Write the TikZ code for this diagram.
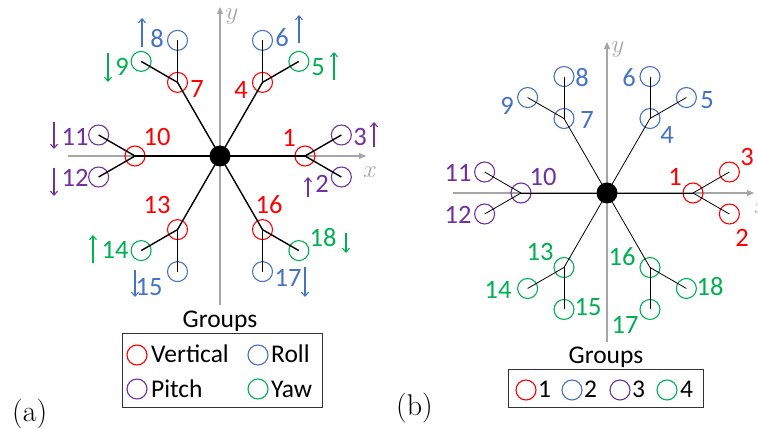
\documentclass[tikz,border=0pt]{standalone}
\usepackage{fontspec}
\newfontfamily\cali{Carlito}
\usetikzlibrary{arrows.meta,calc}
\definecolor{cvert}{HTML}{FF0000}
\definecolor{croll}{HTML}{4472C4}
\definecolor{cpitch}{HTML}{7030A0}
\definecolor{cyaw}{HTML}{00B050}
\definecolor{axgray}{HTML}{A6A6A6}
\begin{document}
\begin{tikzpicture}[x=1pt,y=1pt,
  ring/.style={circle,draw=#1,line width=1.1pt,minimum size=20pt,inner sep=0pt},
  hub/.style={circle,fill=black,minimum size=21pt,inner sep=0pt},
  lab/.style={text=#1,font=\cali\fontsize{26.5}{26.5}\selectfont,inner sep=0pt},
  armA/.style={line width=1.4pt},
  armB/.style={line width=0.8pt},
  axis/.style={draw=axgray,line width=1.2pt,-{Triangle[length=7pt,width=6pt]}},
  axlab/.style={text=axgray,font=\fontsize{24}{24}\selectfont,inner sep=0pt},
  motion/.style={draw=#1,line width=1.1pt,-{Straight Barb[length=4pt,width=7pt]}},
  legbox/.style={draw=black!80,line width=1pt},
  legtext/.style={font=\cali\fontsize{25.5}{25.5}\selectfont,inner sep=0pt,anchor=base west},
  grptext/.style={font=\cali\fontsize{25.5}{25.5}\selectfont,inner sep=0pt},
  panel/.style={font=\fontsize{30}{30}\selectfont,inner sep=0pt,anchor=base west},
]
\useasboundingbox (0,0) rectangle (758,428);

% ---------- panel (a): axes ----------
\coordinate (A) at (220,272);
\coordinate (axAw) at (68,272);   \coordinate (axAe) at (366,272);
\coordinate (axAs) at (220,123);  \coordinate (axAn) at (220,421);
\draw[axis] (axAw) -- (axAe);
\draw[axis] (axAs) -- (axAn);
\node[axlab] (xa) at (370,256) {$x$};
\node[axlab] (ya) at (232,411) {$y$};

% ---------- panel (a): arms ----------
\foreach \k/\t/\ca/\cb in {1/0/cpitch/cpitch,4/60/cyaw/croll,7/120/croll/cyaw,
                           10/180/cpitch/cpitch,13/240/cyaw/croll,16/300/croll/cyaw}{
  \pgfmathtruncatemacro\ka{\k+1}
  \pgfmathtruncatemacro\kb{\k+2}
  \node[ring=cvert] (pa\k) at ($(A)+(\t:85)$) {};
  \node[ring=\ca] (pa\ka) at ($(pa\k.center)+(\t-30:42)$) {};
  \node[ring=\cb] (pa\kb) at ($(pa\k.center)+(\t+30:42)$) {};
  \draw[armA] (A) -- (pa\k.center);
  \draw[armA] (pa\k.center) -- (pa\ka.center);
  \draw[armA] (pa\k.center) -- (pa\kb.center);
}
\node[hub] (hubA) at (A) {};

% ---------- panel (a): labels and motion arrows ----------
\node[lab=cvert]  (la1)  at (289,290) {1};
\node[lab=cpitch] (la2)  at (322,244) {2};
\node[lab=cpitch] (la3)  at (360,291) {3};
\node[lab=cvert]  (la4)  at (241,338) {4};
\node[lab=cyaw]   (la5)  at (318,361) {5};
\node[lab=croll]  (la6)  at (282,390) {6};
\node[lab=cvert]  (la7)  at (197,339) {7};
\node[lab=croll]  (la8)  at (157,389) {8};
\node[lab=cyaw]   (la9)  at (122,361) {9};
\node[lab=cvert]  (la10) at (157,291) {10};
\node[lab=cpitch] (la11) at (75,291)  {11};
\node[lab=cpitch] (la12) at (75,250)  {12};
\node[lab=cvert]  (la13) at (157,223) {13};
\node[lab=cyaw]   (la14) at (115,178) {14};
\node[lab=croll]  (la15) at (149,141) {15};
\node[lab=cvert]  (la16) at (269,223) {16};
\node[lab=croll]  (la17) at (288,150) {17};
\node[lab=cyaw]   (la18) at (323,190) {18};

\foreach \n/\c/\x/\ya/\yb in {2/cpitch/308/231/251, 3/cpitch/374/281/306,
    5/cyaw/334/348/376, 6/croll/299/385/413, 8/croll/142/381/410,
    9/cyaw/108/375/346, 11/cpitch/54/306/279, 12/cpitch/54/260/232,
    14/cyaw/93/165/193, 15/croll/135/158/131, 17/croll/305/161/131,
    18/cyaw/346/195/175}{
  \coordinate (ms\n) at (\x,\ya);
  \coordinate (me\n) at (\x,\yb);
  \draw[motion=\c] (ms\n) -- (me\n);
}

% ---------- panel (a): legend ----------
\node[grptext] (grpA) at (220,107) {Groups};
\coordinate (lgAsw) at (122,20); \coordinate (lgAne) at (322,94);
\draw[legbox] (lgAsw) rectangle (lgAne);
\node[ring=cvert]  (kA1) at (137,73) {};
\node[legtext] (tA1) at (151,65) {Vertical};
\node[ring=croll]  (kA2) at (258,73) {};
\node[legtext] (tA2) at (271,65) {Roll};
\node[ring=cpitch] (kA3) at (137,39) {};
\node[legtext] (tA3) at (151,30) {Pitch};
\node[ring=cyaw]   (kA4) at (258,39) {};
\node[legtext] (tA4) at (271,30) {Yaw};

\node[panel] (capA) at (12,6) {(a)};

% ---------- panel (b): axes ----------
\coordinate (B) at (607,235);
\coordinate (axBw) at (453,235);  \coordinate (axBe) at (754,235);
\coordinate (axBs) at (607,86);   \coordinate (axBn) at (607,386);
\draw[axis] (axBw) -- (axBe);
\draw[axis] (axBs) -- (axBn);
\node[axlab] (xb) at (761,220) {$x$};
\node[axlab] (yb) at (618,378) {$y$};

% ---------- panel (b): arms ----------
\foreach \k/\t/\c in {1/0/cvert,4/60/croll,7/120/croll,
                      10/180/cpitch,13/240/cyaw,16/300/cyaw}{
  \pgfmathtruncatemacro\ka{\k+1}
  \pgfmathtruncatemacro\kb{\k+2}
  \node[ring=\c] (pb\k) at ($(B)+(\t:86)$) {};
  \node[ring=\c] (pb\ka) at ($(pb\k.center)+(\t-30:42)$) {};
  \node[ring=\c] (pb\kb) at ($(pb\k.center)+(\t+30:42)$) {};
  \draw[armB] (B) -- (pb\k.center);
  \draw[armB] (pb\k.center) -- (pb\ka.center);
  \draw[armB] (pb\k.center) -- (pb\kb.center);
}
\node[hub] (hubB) at (B) {};

% ---------- panel (b): labels ----------
\node[lab=cvert]  (lb1)  at (675,251) {1};
\node[lab=cvert]  (lb2)  at (742,190) {2};
\node[lab=cvert]  (lb3)  at (747,271) {3};
\node[lab=croll]  (lb4)  at (667,293) {4};
\node[lab=croll]  (lb5)  at (707,328) {5};
\node[lab=croll]  (lb6)  at (629,350) {6};
\node[lab=croll]  (lb7)  at (587,308) {7};
\node[lab=croll]  (lb8)  at (582,350) {8};
\node[lab=croll]  (lb9)  at (507,322) {9};
\node[lab=cpitch] (lb10) at (543,251) {10};
\node[lab=cpitch] (lb11) at (458,255) {11};
\node[lab=cpitch] (lb12) at (458,213) {12};
\node[lab=cyaw]   (lb13) at (540,176) {13};
\node[lab=cyaw]   (lb14) at (498,138) {14};
\node[lab=cyaw]   (lb15) at (588,121) {15};
\node[lab=cyaw]   (lb16) at (622,171) {16};
\node[lab=cyaw]   (lb17) at (625,103) {17};
\node[lab=cyaw]   (lb18) at (710,141) {18};

% ---------- panel (b): legend ----------
\node[grptext] (grpB) at (606,71) {Groups};
\coordinate (lgBsw) at (508,20); \coordinate (lgBne) at (703,58);
\draw[legbox] (lgBsw) rectangle (lgBne);
\node[ring=cvert]  (kB1) at (526,38) {};
\node[legtext] (tB1) at (538,30) {1};
\node[ring=croll]  (kB2) at (572,38) {};
\node[legtext] (tB2) at (584,30) {2};
\node[ring=cpitch] (kB3) at (620,38) {};
\node[legtext] (tB3) at (632,30) {3};
\node[ring=cyaw]   (kB4) at (667,38) {};
\node[legtext] (tB4) at (680,30) {4};

\node[panel] (capB) at (396,12) {(b)};
\end{tikzpicture}
\end{document}
